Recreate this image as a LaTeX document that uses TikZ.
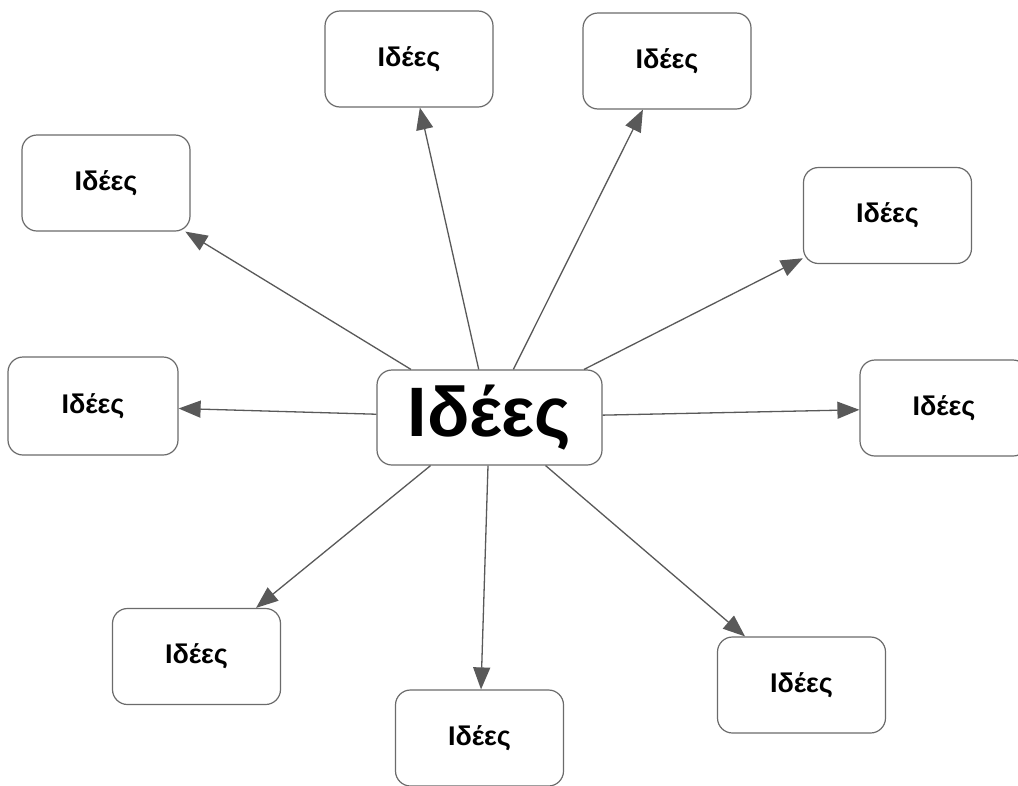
\documentclass[tikz,border=0pt]{standalone}
\usepackage{fontspec}
\setmainfont{Liberation Sans}
\usetikzlibrary{arrows.meta}
\definecolor{boxline}{HTML}{6B6B6B}
\definecolor{conn}{HTML}{595959}
\begin{document}
\begin{tikzpicture}[x=1pt,y=-1pt,
  idea/.style={draw=boxline, line width=1.2pt, rounded corners=15pt, fill=white,
    minimum width=168pt, minimum height=96pt, inner sep=0pt,
    font=\fontsize{27}{31}\selectfont\bfseries},
  hub/.style={idea, minimum width=225pt, minimum height=95pt,
    font=\fontsize{70}{80}\selectfont\bfseries},
  link/.style={draw=conn, line width=1.3pt, -{Triangle[length=22pt,width=17pt]}}]
\clip (0,0) rectangle (1018,785);
\fill[white] (0,0) rectangle (1018,785);
\node[hub]  (c)   at (489.5,417.5) {Ιδέες};
\node[idea] (tl)  at (106,183)     {Ιδέες};
\node[idea] (tcl) at (409,59)      {Ιδέες};
\node[idea] (tcr) at (667,61)      {Ιδέες};
\node[idea] (ru)  at (887.5,215.5) {Ιδέες};
\node[idea, minimum width=170pt, minimum height=98pt] (lm) at (93,406) {Ιδέες};
\node[idea] (rm)  at (944,408)     {Ιδέες};
\node[idea] (bl)  at (196.5,656.5) {Ιδέες};
\node[idea] (bc)  at (479.5,738)   {Ιδέες};
\node[idea] (br)  at (801.5,685)   {Ιδέες};
\foreach \t in {tl,tcl,tcr,ru,lm,rm,bl,bc,br}
  \draw[link] (c) -- (\t);
\end{tikzpicture}
\end{document}
